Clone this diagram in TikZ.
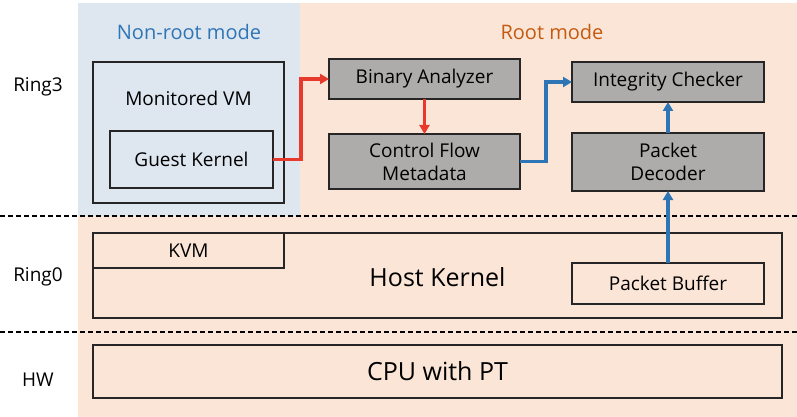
\documentclass[tikz,border=0pt]{standalone}
\usepackage{fontspec}
\setmainfont{Open Sans}
\usetikzlibrary{arrows.meta}
\definecolor{bgblue}{HTML}{DEE6EF}
\definecolor{bgpeach}{HTML}{FBE5D6}
\definecolor{boxgray}{HTML}{AEABAB}
\definecolor{arrred}{HTML}{E8392D}
\definecolor{arrblue}{HTML}{2E75B6}
\definecolor{txtblue}{HTML}{2E75B6}
\definecolor{txtorange}{HTML}{C55A11}
\tikzset{
  plainbox/.style={draw=black!85, line width=1.4pt, outer sep=0pt, inner sep=0pt, font=\fontsize{19}{23}\selectfont, align=center},
  graybox/.style={plainbox, fill=boxgray},
  redarrow/.style={draw=arrred, line width=3.2pt, -{Triangle[length=9pt,width=10pt]}},
  bluearrow/.style={draw=arrblue, line width=3.2pt, -{Triangle[length=9pt,width=10pt]}},
  sep/.style={draw=black, line width=1.6pt, dash pattern=on 5pt off 3pt},
  ringlabel/.style={font=\fontsize{19}{23}\selectfont},
}
\begin{document}
\begin{tikzpicture}[x=1pt,y=-1pt]
\useasboundingbox (0,0) rectangle (797,417);
% backgrounds
\fill[bgblue] (78,3) rectangle (300,216);
\fill[bgpeach] (300,3) rectangle (797,216);
\fill[bgpeach] (78,216) rectangle (797,417);
% separators
\coordinate (s1l) at (0,216); \coordinate (s1r) at (797,216);
\coordinate (s2l) at (0,332); \coordinate (s2r) at (797,332);
\draw[sep] (s1l) -- (s1r);
\draw[sep] (s2l) -- (s2r);
% mode labels
\node[font=\fontsize{20}{24}\selectfont, text=txtblue] (nonroot) at (189,32) {Non-root mode};
\node[font=\fontsize{20}{24}\selectfont, text=txtorange] (root) at (552,32) {Root mode};
% ring labels
\node[ringlabel] (r3) at (38,87) {Ring3};
\node[ringlabel] (r0) at (38,277) {Ring0};
\node[ringlabel] (hw) at (38,380) {HW};
% Monitored VM
\node[plainbox, minimum width=191pt, minimum height=141pt] (vm) at (188.5,132.5) {};
\node[font=\fontsize{19}{23}\selectfont] (vmlabel) at (188.5,98) {Monitored VM};
\node[plainbox, minimum width=163pt, minimum height=57pt] (gk) at (191.5,159.5) {Guest Kernel};
% root mode boxes
\node[graybox, minimum width=191pt, minimum height=40pt] (ba) at (424.5,79) {Binary Analyzer};
\node[graybox, minimum width=191pt, minimum height=55pt] (cfm) at (424.5,161.5) {Control Flow\\Metadata};
\node[graybox, minimum width=192pt, minimum height=40pt] (ic) at (668,82) {Integrity Checker};
\node[graybox, minimum width=192pt, minimum height=58pt] (pd) at (668,162) {Packet\\Decoder};
% host kernel
\node[plainbox, minimum width=689pt, minimum height=85pt] (hk) at (437.5,275.5) {};
\node[font=\fontsize{25}{30}\selectfont] (hklabel) at (437.5,277) {Host Kernel};
\node[plainbox, minimum width=191pt, minimum height=35pt, anchor=north west] (kvm) at (93,233) {KVM};
\node[plainbox, minimum width=192pt, minimum height=41pt] (pb) at (668,283.5) {Packet Buffer};
% CPU
\node[plainbox, minimum width=689pt, minimum height=53pt, font=\fontsize{25}{30}\selectfont] (cpu) at (437.5,371.5) {CPU with PT};
% arrows
\draw[redarrow] (gk.east) -- (301,159.5) |- (ba.west);
\draw[redarrow] (ba.south) -- (cfm.north);
\draw[bluearrow] (cfm.east) -- (546,161.5) |- (ic.west);
\draw[bluearrow] (pd.north) -- (ic.south);
\draw[bluearrow] (pb.north) -- (pd.south);
\end{tikzpicture}
\end{document}
